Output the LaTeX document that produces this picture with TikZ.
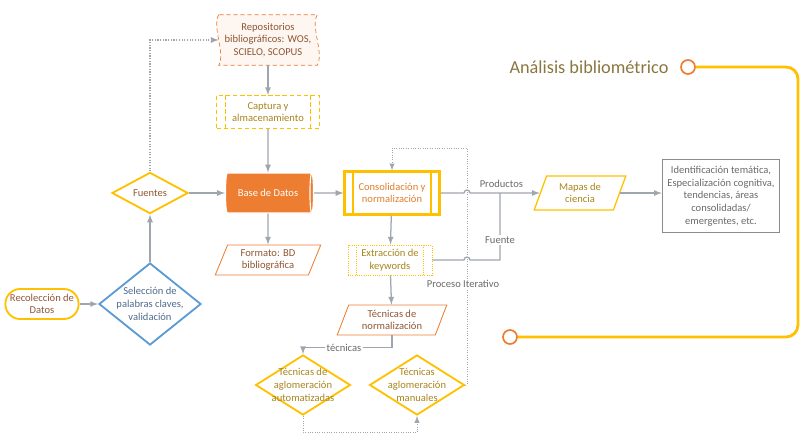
\documentclass[tikz,border=0pt]{standalone}
\usepackage{fontspec}
\setmainfont{Carlito}
\usetikzlibrary{shapes.geometric,calc,backgrounds}
\definecolor{oro}{HTML}{FFC000}
\definecolor{naranja}{HTML}{ED7D31}
\definecolor{azul}{HTML}{5B9BD5}
\definecolor{flecha}{HTML}{9FA6AE}
\definecolor{gris}{HTML}{8C8C8C}
\definecolor{ytext}{HTML}{A8841C}
\definecolor{otext}{HTML}{8E5634}
\definecolor{btext}{HTML}{4F6A8C}
\definecolor{gtext}{HTML}{6A6A6A}
\definecolor{atext}{HTML}{8A7640}
\begin{document}
\begin{tikzpicture}[x=0.025cm,y=-0.025cm,>=latex,
  every node/.style={font=\fontsize{7.5}{9}\selectfont, align=center},
  con/.style={draw=flecha, line width=0.9pt, ->},
  iter/.style={draw=flecha, line width=0.7pt, densely dotted},
  rombo/.style={diamond, line width=1.3pt, inner sep=0pt},
  para/.style={trapezium, trapezium left angle=70, trapezium right angle=110,
    trapezium stretches=true, draw=naranja, line width=0.6pt, text=otext,
    minimum width=2.65cm, minimum height=0.75cm, inner sep=1pt},
  ppbox/.style={rectangle, draw=oro, text=ytext, inner sep=1pt,
    path picture={\draw[oro, #1]
      ([xshift=0.22cm]path picture bounding box.north west) -- ([xshift=0.22cm]path picture bounding box.south west)
      ([xshift=-0.22cm]path picture bounding box.north east) -- ([xshift=-0.22cm]path picture bounding box.south east);}},
  circ/.style={circle, draw=naranja, line width=1.2pt, fill=white, minimum size=0.35cm, inner sep=0pt}]
\useasboundingbox (0,0) rectangle (800,435);

\node[rectangle, text=otext, minimum width=2.45cm, minimum height=1.25cm, inner sep=1pt] (rep) at (268,40)
  {Repositorios\\bibliográficos: WOS,\\SCIELO, SCOPUS};
\begin{scope}[on background layer]
\draw[naranja, densely dashed, line width=0.5pt, fill=naranja!7]
  (rep.north west) .. controls ($(rep.north west)+(-7,12)$) and ($(rep.south west)+(7,-12)$) .. (rep.south west)
  -- (rep.south east) .. controls ($(rep.south east)+(7,-12)$) and ($(rep.north east)+(-7,12)$) .. (rep.north east)
  -- cycle;
\end{scope}
\node[ppbox={densely dashed, line width=0.5pt}, densely dashed, line width=0.5pt,
  minimum width=2.57cm, minimum height=0.83cm] (cap) at (268,112) {Captura y\\almacenamiento};
\node[cylinder, aspect=0.35, draw=white, line width=0.8pt, fill=naranja, text=white,
  minimum height=2.2cm, minimum width=1cm, inner sep=1pt] (bd) at (268,193) {Base de Datos};
\node[para] (fmt) at (268,260) {Formato: BD\\bibliográfica};
\node[rombo, draw=oro, text=otext, minimum width=1.9cm, minimum height=1.03cm] (fue) at (150,193) {Fuentes};
\node[rombo, draw=azul, minimum width=2.55cm, minimum height=2.05cm,
  label={[text=btext]center:Selección de\\palabras claves,\\validación}] (sel) at (150,304) {};
\node[rectangle, rounded corners=0.37cm, draw=oro, line width=1.3pt, text=otext,
  minimum width=1.83cm, minimum height=0.75cm, inner sep=1pt] (rec) at (42,304) {Recolección de\\Datos};

\node[ppbox={line width=1.3pt}, line width=1.6pt, text=naranja!80!ytext,
  minimum width=2.37cm, minimum height=1.07cm] (cons) at (392,193) {Consolidación y\\normalización};
\node[ppbox={densely dotted, line width=0.6pt}, densely dotted, line width=0.6pt,
  minimum width=2.1cm, minimum height=0.75cm] (ext) at (390,260) {Extracción de\\keywords};
\node[para, minimum width=2.75cm] (tn) at (392,320) {Técnicas de\\normalización};
\node[rombo, draw=oro, minimum width=2.37cm, minimum height=1.5cm,
  label={[text=ytext]center:Técnicas de\\aglomeración\\automatizadas}] (aut) at (303,385) {};
\node[rombo, draw=oro, minimum width=2.37cm, minimum height=1.5cm,
  label={[text=ytext]center:Técnicas\\aglomeración\\manuales}] (man) at (417,385) {};

\node[para, draw=oro, line width=0.9pt, text=ytext, minimum width=2.3cm, minimum height=0.85cm] (map) at (580,193) {Mapas de\\ciencia};
\node[rectangle, draw=gris, line width=1.2pt, text=gtext, minimum width=2.92cm, minimum height=1.83cm,
  inner sep=1pt] (res) at (721,196)
  {Identificación temática,\\Especialización cognitiva,\\tendencias, áreas\\consolidadas/\\emergentes, etc.};

\node[text=atext, font=\fontsize{13}{15}\selectfont] (ab) at (589,67) {Análisis bibliométrico};
\coordinate (it) at (467,148);
\coordinate (fu) at (500,193);

\draw[con] (rep) -- (cap);
\draw[con] (cap) -- (bd);
\draw[con] (fue) -- (bd);
\draw[con] (bd) -- (fmt);
\draw[con] (bd) -- (cons);
\draw[con] (sel) -- (fue);
\draw[con] (rec) -- (sel);
\draw[con] (cons) -- (ext);
\draw[con] (ext) -- (tn);
\draw[con] (tn.south) -- ++(0,12) -| node[pos=0.27, fill=white, text=gtext, inner sep=1pt] {técnicas} (aut.north);
\draw[con, densely dotted] (fue.north) |- (rep.west);
\draw[iter, ->] (aut.south) -- ++(0,17) -| (man.south);
\draw[iter, ->] (man.east) -- (man.east -| it) -- (it) -| (cons.north);
\node[fill=white, text=gtext, inner sep=1pt] (pi) at (463,284) {Proceso Iterativo};

\draw[con] (cons.east) -- ($(cons.east -| it)+(-3,0)$) arc[start angle=180, end angle=0, radius=0.075cm]
  -- node[above, text=gtext, pos=0.45] {Productos} (map.west);
\draw[draw=flecha, line width=0.9pt] (ext.east) -- ($(ext.east -| it)+(-3,0)$) arc[start angle=180, end angle=0, radius=0.075cm]
  -- (ext.east -| fu) -- node[pos=0.3, fill=white, text=gtext, inner sep=1pt] {Fuente} (fu);
\draw[con] (map.east) -- (res.west |- map.east);

\node[circ] (c1) at (688,67) {};
\node[circ] (c2) at (510,337) {};
\draw[oro, line width=2pt, rounded corners=0.3cm] (c1.east) -- (798,67) -- (798,337) -- (c2.east);
\end{tikzpicture}
\end{document}
